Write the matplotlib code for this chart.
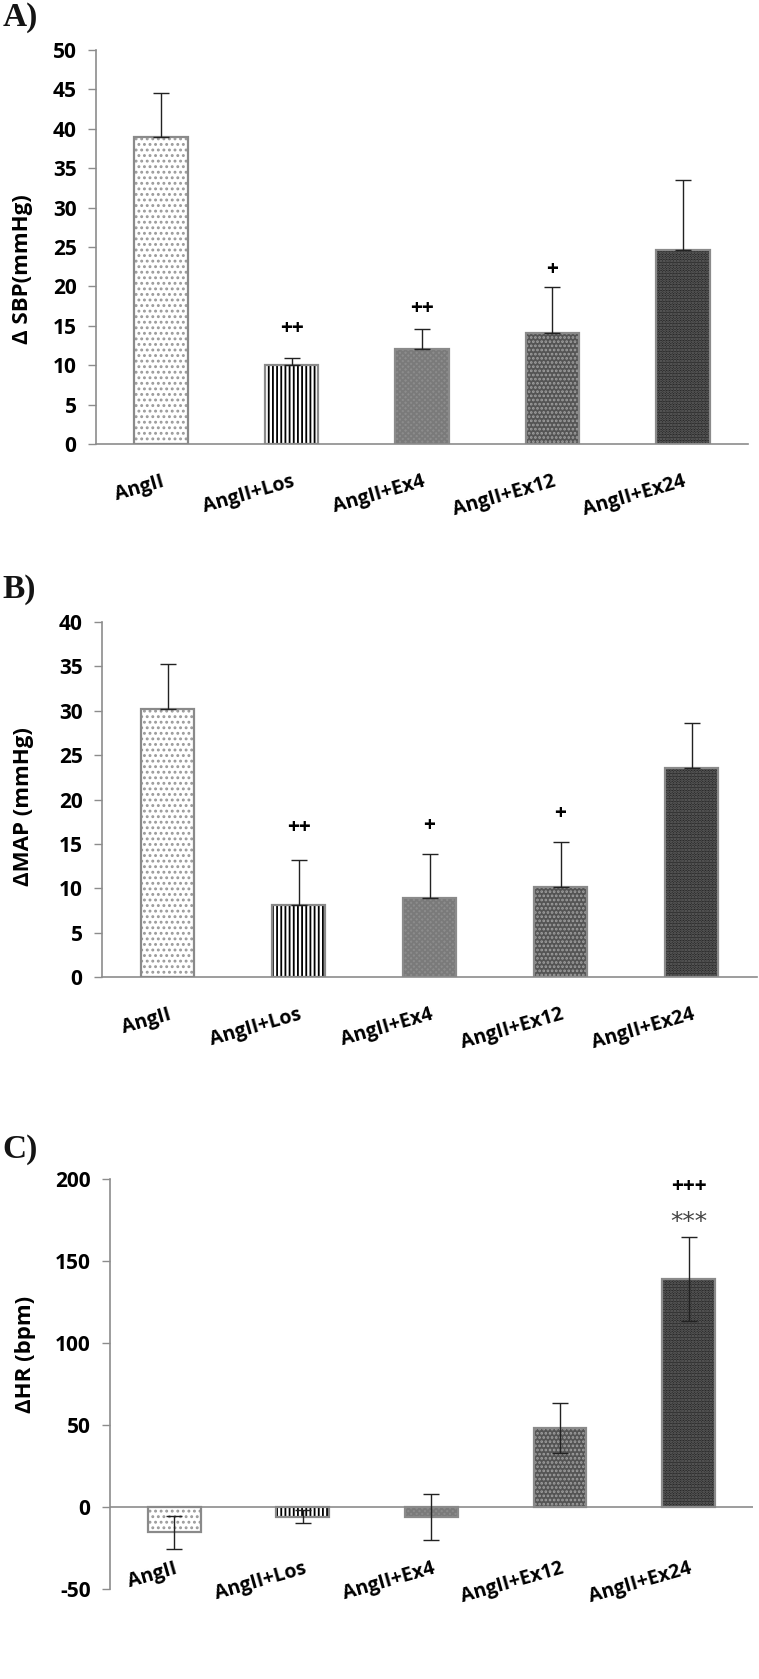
import numpy as np
import matplotlib
matplotlib.use('Agg')
import matplotlib.pyplot as plt

plt.rcParams['font.family'] = ['Open Sans', 'DejaVu Sans']
plt.rcParams['font.weight'] = 'bold'
plt.rcParams['hatch.linewidth'] = 1.3
plt.rcParams['axes.unicode_minus'] = False

# ---------------------------------------------------------------- data
groups = ['AngII', 'AngII+Los', 'AngII+Ex4', 'AngII+Ex12', 'AngII+Ex24']

sbp_mean = [39.0, 10.0, 12.0, 14.1, 24.6]
sbp_err = [5.6, 0.9, 2.6, 5.8, 8.9]
sbp_marks = [(1, '++', 14.7), (2, '++', 17.2), (3, '+', 22.2)]

map_mean = [30.2, 8.1, 8.9, 10.1, 23.6]
map_err = [5.1, 5.1, 5.0, 5.1, 5.0]
map_marks = [(1, '++', 16.8), (2, '+', 17.1), (3, '+', 18.4)]

hr_mean = [-15.5, -6.0, -6.0, 48.0, 139.2]
hr_err = [10.3, 4.0, 14.0, 15.2, 25.5]
hr_marks = [(4, '+++', 195.7), (4, '***', 174.0)]

# ---------------------------------------------------------------- bar styles
faces = ['white', 'white', '#8c8c8c', '#545454', '#262626']
hatch_colors = ['#9a9a9a', 'black', '#7a7a7a', '#a0a0a0', '#6a6a6a']
hatches = ['...', '||||', 'xxxxxx', '....', '......']
edge_gray = '#8a8a8a'
axis_gray = '#8c8c8c'


def draw_panel(ax, mean, err, marks, ylim, ystep, ylabel, label_y, one_sided=True):
    x = np.arange(len(groups))
    # hatched fill first, then the outline on top
    ax.bar(x, mean, width=0.41, color=faces, edgecolor=hatch_colors,
           hatch=hatches, linewidth=0, zorder=2)
    ax.bar(x, mean, width=0.41, color='none', edgecolor=edge_gray,
           linewidth=1.6, zorder=3)
    if one_sided:
        yerr = [np.zeros(len(err)), err]
    else:
        yerr = err
    ax.errorbar(x, mean, yerr=yerr, fmt='none', ecolor='#222222',
                elinewidth=1.0, capsize=6, capthick=1.0, zorder=4)

    for i, txt, yy in marks:
        if txt == '***':
            ax.text(i, yy, txt, ha='center', va='center', fontsize=18,
                    fontweight='normal', color='#444444', family='DejaVu Sans')
        else:
            ax.text(i, yy, txt, ha='center', va='center', fontsize=15,
                    fontweight='bold', color='black')

    ax.set_xlim(-0.5, len(groups) - 0.5)
    ax.set_ylim(*ylim)
    ax.set_yticks(np.arange(ylim[0], ylim[1] + 1, ystep))
    ax.set_xticks(x)
    ax.set_xticklabels(groups)
    plt.setp(ax.get_xticklabels(), rotation=16, ha='right', va='top',
             rotation_mode='anchor', fontsize=14, fontweight='bold')
    ax.tick_params(axis='y', length=6, width=1, color=axis_gray, pad=8,
                   labelsize=15)
    plt.setp(ax.get_yticklabels(), fontweight='bold')
    for spine in ['top', 'right']:
        ax.spines[spine].set_visible(False)
    ax.spines['left'].set_color(axis_gray)
    ax.spines['bottom'].set_color(axis_gray)
    ax.spines['left'].set_linewidth(1.2)
    ax.spines['bottom'].set_linewidth(1.2)

    ax.set_ylabel(ylabel, fontsize=16, fontweight='bold')
    ax.yaxis.set_label_coords(label_y[0], label_y[1], transform=ax.figure.transFigure)


fig = plt.figure(figsize=(7.59, 16.79), dpi=100)

axA = fig.add_axes([0.1265, 0.7356, 0.859, 0.2346])
draw_panel(axA, sbp_mean, sbp_err, sbp_marks, (0, 50), 5, 'Δ SBP(mmHg)',
           (33 / 759, 1 - 269 / 1679))
axA.tick_params(axis='x', length=0, pad=20)

axB = fig.add_axes([0.1344, 0.4181, 0.863, 0.2114])
draw_panel(axB, map_mean, map_err, map_marks, (0, 40), 5, 'ΔMAP (mmHg)',
           (34 / 759, 1 - 807 / 1679))
axB.tick_params(axis='x', length=0, pad=20)

axC = fig.add_axes([0.1449, 0.0536, 0.847, 0.2442])
draw_panel(axC, hr_mean, hr_err, hr_marks, (-50, 200), 50, 'ΔHR (bpm)',
           (36 / 759, 1 - 1354 / 1679), one_sided=False)
axC.spines['bottom'].set_visible(False)
axC.axhline(0, color=axis_gray, linewidth=1.2, zorder=1)
axC.tick_params(axis='x', length=0, pad=-22)

for letter, ypix in [('A)', 2), ('B)', 574), ('C)', 1134)]:
    fig.text(0.003, 1 - ypix / 1679, letter, ha='left', va='top',
             fontsize=24, fontweight='bold', family='Liberation Serif',
             color='#141414')

fig.savefig('out.png', dpi=100)
